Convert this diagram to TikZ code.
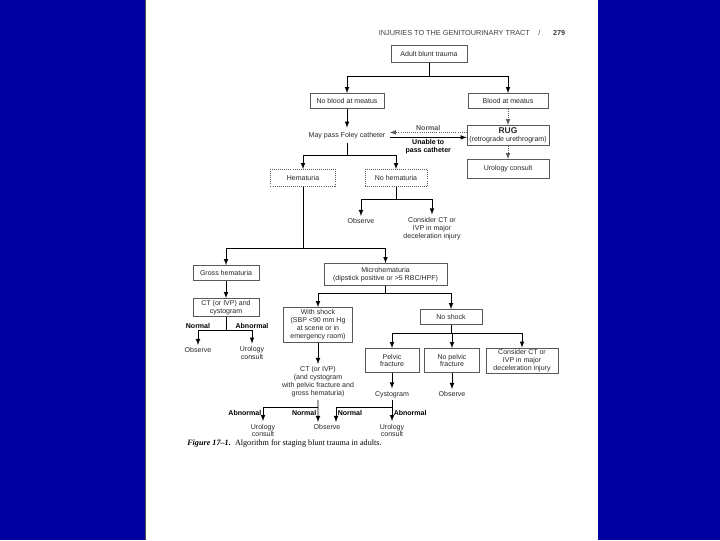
\documentclass[tikz,border=0pt]{standalone}
\usepackage{fontspec}
\setmainfont{Liberation Serif}
\setsansfont{Liberation Sans}
\usetikzlibrary{calc,shapes,arrows}
\definecolor{slideblue}{RGB}{0,0,160}
\tikzstyle{box}=[rectangle,
                 draw=black!65,
                 line width=0.45pt,
                 align=center,
                 inner sep=1pt,
                 text=black!85,
                 font=\fontsize{5}{5.6}\selectfont\sffamily]
\tikzstyle{plain}=[align=center,
                   inner sep=1.8pt,
                   text=black!85,
                   font=\fontsize{5}{5.6}\selectfont\sffamily]
\tikzstyle{lbl}=[inner sep=1pt,
                 align=center,
                 font=\fontsize{5}{5.6}\selectfont\sffamily\bfseries]
\tikzstyle{link}=[line width=0.5pt]
\tikzstyle{flow}=[-latex, line width=0.5pt]
\tikzstyle{weakflow}=[-latex, line width=0.5pt, densely dotted, black!65]

\begin{document}
\begin{tikzpicture}[x=0.025cm, y=-0.025cm]
      \fill[slideblue] (0,0) rectangle (720,540);
      \fill[white] (145,0) rectangle (598,540);
      \draw[black!70, line width=0.6pt] (145,0) -- (145,540);
      \useasboundingbox (0,0) rectangle (720,540);

      \node[plain, anchor=west, text=black!75, font=\fontsize{5.2}{6}\selectfont\sffamily] (header) at (376,32)
            {INJURIES TO THE GENITOURINARY TRACT\hspace{6pt}/\hspace{9pt}\textbf{279}};

      \node[box, minimum width=1.9cm, minimum height=0.425cm] (adult) at (429,53.5) {Adult blunt trauma};
      \node[box, minimum width=1.85cm, minimum height=0.375cm] (noblood) at (347,100.5) {No blood at meatus};
      \node[box, minimum width=2cm, minimum height=0.375cm] (blood) at (508,100.5) {Blood at meatus};
      \node[plain, inner sep=3pt] (foley) at (347,135) {May pass Foley catheter};
      \node[box, minimum width=2.05cm, minimum height=0.5cm] (rug) at (508,135)
            {{\fontsize{6}{6}\selectfont\bfseries RUG}\\(retrograde urethrogram)};
      \node[box, minimum width=2.05cm, minimum height=0.475cm] (urology1) at (508,168.5) {Urology consult};

      \node[box, densely dotted, minimum width=1.625cm, minimum height=0.425cm] (hematuria) at (303,177.5) {Hematuria};
      \node[box, densely dotted, minimum width=1.55cm, minimum height=0.425cm] (nohematuria) at (396,177.5) {No hematuria};
      \node[plain] (observe1) at (361,221) {Observe};
      \node[plain] (consider1) at (432,228) {Consider CT or\\IVP in major\\deceleration injury};

      \node[box, minimum width=1.65cm, minimum height=0.375cm] (gross) at (226,272.5) {Gross hematuria};
      \node[box, minimum width=3.075cm, minimum height=0.55cm] (micro) at (385.5,274)
            {Microhematuria\\(dipstick positive or >5 RBC/HPF)};
      \node[box, minimum width=1.65cm, minimum height=0.45cm] (ctivp) at (226,307) {CT (or IVP) and\\cystogram};
      \node[plain] (observe2) at (198,350) {Observe};
      \node[plain] (urology2) at (252,352.5) {Urology\\consult};

      \node[box, minimum width=1.725cm, minimum height=0.875cm] (shock) at (318,324.5)
            {With shock\\(SBP <90 mm Hg\\at scene or in\\emergency room)};
      \node[plain] (ctshock) at (318,381.5) {CT (or IVP)\\(and cystogram\\with pelvic fracture and\\gross hematuria)};
      \node[box, minimum width=1.55cm, minimum height=0.375cm] (noshock) at (451,316.5) {No shock};
      \node[box, minimum width=1.35cm, minimum height=0.6cm] (pelvic) at (392,360) {Pelvic\\fracture};
      \node[box, minimum width=1.375cm, minimum height=0.6cm] (nopelvic) at (452,360) {No pelvic\\fracture};
      \node[box, minimum width=1.8cm, minimum height=0.6cm] (consider2) at (522,360)
            {Consider CT or\\IVP in major\\deceleration injury};
      \node[plain] (cystogram) at (392,394) {Cystogram};
      \node[plain] (observe3) at (452,394) {Observe};

      \node[plain] (urology3) at (263,430) {Urology\\consult};
      \node[plain] (observe4) at (327,427) {Observe};
      \node[plain] (urology4) at (392,430) {Urology\\consult};

      \node[anchor=west, inner sep=0pt, font=\fontsize{5.8}{6.5}\selectfont] (caption) at (187,443)
            {\textbf{\textit{Figure 17--1.}}\hspace{3pt}Algorithm for staging blunt trauma in adults.};

      % branch points
      \coordinate (j1) at (429,76);
      \coordinate (j2) at (347,155);
      \coordinate (j3) at (396,199);
      \coordinate (j4) at (303,248);
      \coordinate (j5) at (226,330);
      \coordinate (j6) at (385.5,293);
      \coordinate (j7) at (451,333);
      \coordinate (j8) at (318,407);
      \coordinate (j9) at (392,407);

      \draw[link] (adult) -- (j1);
      \draw[flow] (j1) -| (noblood.north);
      \draw[flow] (j1) -| (blood.north);
      \draw[flow] (noblood) -- (foley);
      \draw[weakflow] (blood) -- (rug);
      \draw[weakflow] ([yshift=0.075cm]rug.west) -- ([yshift=0.075cm]foley.east)
            node[lbl, above, midway] {Normal};
      \draw[flow] ([yshift=-0.05cm]foley.east) -- ([yshift=-0.05cm]rug.west)
            node[lbl, below, midway] {Unable to\\pass catheter};
      \draw[weakflow] (rug) -- (urology1);

      \draw[link] (foley) -- (j2);
      \draw[flow] (j2) -| (hematuria.north);
      \draw[flow] (j2) -| (nohematuria.north);
      \draw[link] (nohematuria) -- (j3);
      \draw[flow] (j3) -| (observe1.north);
      \draw[flow] (j3) -| (consider1.north);

      \draw[link] (hematuria) -- (j4);
      \draw[flow] (j4) -| (gross.north);
      \draw[flow] (j4) -| (micro.north);
      \draw[flow] (gross) -- (ctivp);
      \draw[link] (ctivp) -- (j5);
      \draw[flow] (j5) -| node[lbl, above, pos=0.5] {Normal} (observe2.north);
      \draw[flow] (j5) -| node[lbl, above, pos=0.5] {Abnormal} (urology2.north);

      \draw[link] (micro) -- (j6);
      \draw[flow] (j6) -| (shock.north);
      \draw[flow] (j6) -| (noshock.north);
      \draw[flow] (shock) -- (ctshock);
      \draw[link] (noshock) -- (j7);
      \draw[flow] (j7) -| (pelvic.north);
      \draw[flow] (j7) -| (nopelvic.north);
      \draw[flow] (j7) -| (consider2.north);
      \draw[flow] (pelvic) -- (cystogram);
      \draw[flow] (nopelvic) -- (observe3);

      \draw[flow] (ctshock.south) -- ([xshift=-0.225cm]observe4.north)
            node[lbl, left, pos=0.6] {Normal};
      \draw[flow] (j8) -| node[lbl, left, pos=0.7] {Abnormal} (urology3.north);
      \draw[flow] (cystogram) -- (urology4)
            node[lbl, right, pos=0.6] {Abnormal};
      \draw[flow] (j9) -| node[lbl, right, pos=0.7] {Normal} ([xshift=0.225cm]observe4.north);
    \end{tikzpicture}
\end{document}
